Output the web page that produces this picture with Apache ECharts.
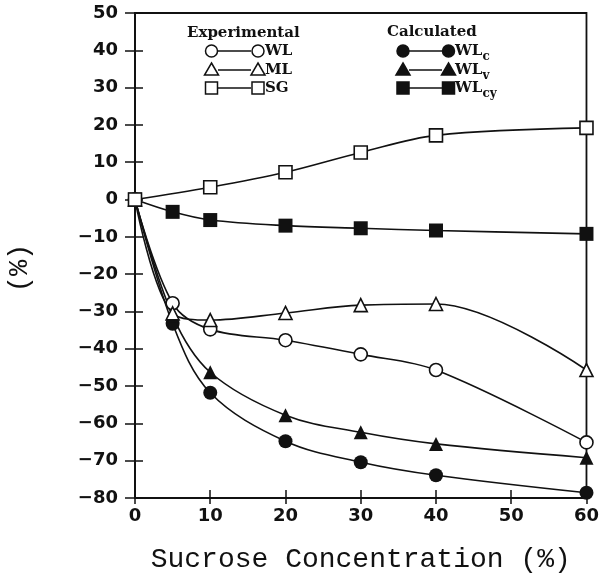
<!DOCTYPE html>
<html><head><meta charset="utf-8">
<script src="https://cdn.jsdelivr.net/npm/echarts@6/dist/echarts.min.js"></script>
<style>html,body{margin:0;padding:0;background:#fff}#c{width:602px;height:579px}</style>
</head><body><div id="c"></div>
<script>
const conc = [0, 5, 10, 20, 30, 40, 60];
const sgConc = [0, 10, 20, 30, 40, 60];
const wl   = [0, -27.8, -34.8, -37.7, -41.5, -45.7, -65.1];
const ml   = [0, -30.5, -32.3, -30.4, -28.3, -28.0, -45.7];
const sg   = [0, 3.3, 7.3, 12.6, 17.2, 19.2];
const wlc  = [0, -33.3, -51.8, -64.8, -70.4, -73.9, -78.6];
const wlv  = [0, -31.1, -46.3, -57.8, -62.4, -65.5, -69.2];
const wlcy = [0, -3.3, -5.5, -7.0, -7.7, -8.3, -9.2];
const xTicks = [0, 10, 20, 30, 40, 50, 60];
const yTicks = [50, 40, 30, 20, 10, 0, -10, -20, -30, -40, -50, -60, -70, -80];

const pair = (xs, ys) => xs.map((x, i) => [x, ys[i]]);
const chart = echarts.init(document.getElementById('c'), null, {renderer: 'canvas'});
const lbl = {fontFamily: 'DejaVu Sans', fontWeight: 'bold', fontSize: 18, color: '#111'};
const fmt = v => (v < 0 ? '\u2212' + Math.abs(v) : String(v));

function mkSeries(name, data, symbol, filled, size) {
  return {
    name, type: 'line', data, symbol, symbolSize: size, smooth: 0.35,
    clip: false, z: filled ? 3 : 4,
    lineStyle: {color: '#111', width: 1.6},
    itemStyle: {color: filled ? '#111' : '#fff', borderColor: '#111', borderWidth: filled ? 0 : 1.6}
  };
}

const S = (x, y, kind, filled) => {
  const st = {fill: filled ? '#111' : '#fff', stroke: '#111', lineWidth: 1.5};
  if (kind === 'circle') return {type: 'circle', shape: {cx: x, cy: y, r: 6}, style: st, z: 10};
  if (kind === 'rect') return {type: 'rect', shape: {x: x - 6, y: y - 6, width: 12, height: 12}, style: st, z: 10};
  return {type: 'polygon', shape: {points: [[x, y - 7], [x + 7, y + 5], [x - 7, y + 5]]}, style: st, z: 10};
};
const L = (x1, x2, y) => ({type: 'line', shape: {x1, y1: y, x2, y2: y}, style: {stroke: '#111', lineWidth: 1.5}, z: 9});
const T = (x, y, text, size) => ({type: 'text', x, y, style: {text, fontFamily: 'DejaVu Serif', fontWeight: 'bold', fontSize: size, fill: '#111', textVerticalAlign: 'middle'}, z: 10});

const graphics = [];
graphics.push(T(187, 33, 'Experimental', 15));
graphics.push(T(387, 32, 'Calculated', 15));
const rows = [51, 70, 88];
const kinds = ['circle', 'triangle', 'rect'];
const expNames = ['WL', 'ML', 'SG'];
rows.forEach((y, i) => {
  graphics.push(L(218, 251, y), S(211.5, y, kinds[i], false), S(258, y, kinds[i], false), T(265, y, expNames[i], 15));
  graphics.push(L(409, 442, y), S(403, y, kinds[i], true), S(448.5, y, kinds[i], true));
});
const subs = ['c', 'v', 'cy'];
rows.forEach((y, i) => {
  graphics.push({type: 'text', x: 455, y: y, style: {
    rich: {a: {fontFamily: 'DejaVu Serif', fontWeight: 'bold', fontSize: 15, fill: '#111'},
           b: {fontFamily: 'DejaVu Serif', fontWeight: 'bold', fontSize: 12, fill: '#111', padding: [12, 0, 0, 0]}},
    text: '{a|WL}{b|' + subs[i] + '}', textVerticalAlign: 'middle'}, z: 10});
});
graphics.push({type: 'text', x: 20, y: 268, rotation: Math.PI / 2,
  style: {text: '(%)', fontFamily: 'Liberation Mono', fontSize: 27, fill: '#111', textAlign: 'center', textVerticalAlign: 'middle'}});

const xBase = {type: 'value', min: 0, max: 60, interval: 10, position: 'bottom',
  axisLine: {onZero: false, lineStyle: {color: '#111', width: 1.8}}, splitLine: {show: false}};
const yBase = {type: 'value', min: -80, max: 50, interval: 10, position: 'left',
  axisLine: {onZero: false, lineStyle: {color: '#111', width: 1.8}}, splitLine: {show: false}};

chart.setOption({
  animation: false,
  backgroundColor: '#fff',
  grid: {left: 135, right: 12, top: 13, bottom: 75, show: true, borderColor: '#111', borderWidth: 1.8},
  xAxis: [
    Object.assign({}, xBase, {
      axisTick: {show: true, inside: false, length: 6, lineStyle: {color: '#111', width: 1.5}},
      axisLabel: Object.assign({}, lbl, {margin: 9, formatter: v => xTicks.includes(v) ? fmt(v) : ''}),
      name: 'Sucrose Concentration (%)', nameLocation: 'middle', nameGap: 48,
      nameTextStyle: {fontFamily: 'Liberation Mono', fontSize: 28, color: '#111'}
    }),
    Object.assign({}, xBase, {
      axisTick: {show: true, inside: true, length: 8, lineStyle: {color: '#111', width: 1.5}},
      axisLabel: {show: false}
    })
  ],
  yAxis: [
    Object.assign({}, yBase, {
      axisTick: {show: true, inside: false, length: 10, lineStyle: {color: '#111', width: 1.5}},
      axisLabel: Object.assign({}, lbl, {margin: 17, formatter: v => yTicks.includes(v) ? fmt(v) : ''})
    }),
    Object.assign({}, yBase, {
      axisTick: {show: true, inside: true, length: 8, lineStyle: {color: '#111', width: 1.5}},
      axisLabel: {show: false}
    })
  ],
  graphic: graphics,
  series: [
    mkSeries('WLc', pair(conc, wlc), 'circle', true, 14),
    mkSeries('WLv', pair(conc, wlv), 'triangle', true, 14),
    mkSeries('WLcy', pair(conc, wlcy), 'rect', true, 14),
    mkSeries('WL', pair(conc, wl), 'circle', false, 13),
    mkSeries('ML', pair(conc, ml), 'triangle', false, 13),
    mkSeries('SG', pair(sgConc, sg), 'rect', false, 13)
  ]
});
</script></body></html>
